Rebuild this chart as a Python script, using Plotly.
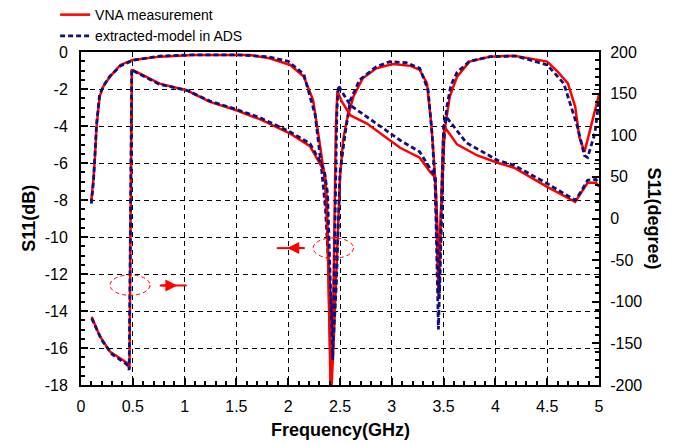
import plotly.graph_objects as go

# ---------------- data ----------------
# VNA measurement, magnitude S11 (dB)
meas_mag_f = [0.10, 0.12, 0.135, 0.15, 0.18, 0.215, 0.28, 0.38, 0.50, 0.76, 1.08, 1.5, 1.63, 1.82,
              2.02, 2.15, 2.24, 2.29, 2.32, 2.355, 2.38, 2.40, 2.415, 2.44, 2.47, 2.50, 2.53, 2.565,
              2.63, 2.72, 2.85, 3.01, 3.18, 3.27, 3.34, 3.38, 3.40, 3.417, 3.435, 3.45, 3.465, 3.49,
              3.51, 3.56, 3.63, 3.75, 3.95, 4.18, 4.5, 4.6, 4.7, 4.77, 4.81, 4.86, 4.89, 4.96, 5.0]
meas_mag_db = [-8.0, -6.9, -5.66, -4.04, -2.4, -1.87, -1.33, -0.7, -0.43, -0.25, -0.16, -0.15, -0.16, -0.34,
               -0.7, -1.33, -2.6, -4.4, -5.66, -6.9, -10.0, -14.5, -18.5, -15.5, -11.5, -6.8, -4.76, -3.7,
               -2.4, -1.42, -0.88, -0.65, -0.75, -0.97, -1.7, -3.84, -5.3, -6.7, -10.0, -13.2, -10.0, -6.5,
               -4.2, -2.4, -1.33, -0.52, -0.25, -0.2, -0.52, -1.06, -1.7, -2.95, -4.6, -5.4, -4.75, -3.1, -2.3]

# VNA measurement, phase S11 (degree)
meas_ph_f = [0.103, 0.18, 0.28, 0.44, 0.468, 0.49, 0.505, 0.76, 1.02, 1.245, 1.50, 1.73, 2.02, 2.21, 2.32,
             2.355, 2.375, 2.395, 2.41, 2.43, 2.445, 2.46, 2.475, 2.52, 2.6, 2.76, 3.08, 3.27, 3.37, 3.42,
             3.44, 3.455, 3.475, 3.495, 3.51, 3.63, 3.82, 4.02, 4.18, 4.5, 4.77, 4.83, 4.89, 4.97, 5.0]
meas_ph_deg = [-118, -141, -160, -173, -180, 178, 178, 162, 154, 140, 130, 119, 102, 87, 63,
               53, 20, -90, -210, -150, -30, 110, 153, 140, 124, 114, 85, 73, 56, 49,
               -10, -75, 10, 95, 110, 89, 76, 67, 61, 38, 20, 31, 43, 43, 38]

# extracted model in ADS, magnitude S11 (dB)
mod_mag_f = [0.10, 0.12, 0.135, 0.15, 0.18, 0.22, 0.28, 0.38, 0.5, 0.76, 1.08, 1.5, 1.8, 2.0, 2.15, 2.26,
             2.32, 2.36, 2.40, 2.435, 2.465, 2.49, 2.5, 2.55, 2.6, 2.69, 2.85, 2.98, 3.14, 3.27, 3.35,
             3.39, 3.42, 3.45, 3.48, 3.5, 3.53, 3.57, 3.63, 3.75, 3.95, 4.2, 4.5, 4.66, 4.79, 4.86,
             4.89, 4.96, 5.0]
mod_mag_db = [-8.2, -7.0, -5.5, -3.9, -2.3, -1.8, -1.3, -0.75, -0.45, -0.22, -0.15, -0.15, -0.25, -0.5, -1.2, -3.4,
              -6.2, -8.5, -12.5, -15.7, -12.5, -8.5, -6.5, -4.4, -2.6, -1.5, -0.8, -0.52, -0.58, -0.88, -2.05,
              -4.5, -7.5, -15.0, -8.5, -5.0, -3.0, -1.8, -1.1, -0.5, -0.25, -0.22, -0.7, -1.7, -4.0, -5.6,
              -5.7, -4.4, -2.6]

# extracted model in ADS, phase S11 (degree)
mod_ph_f = [0.103, 0.2, 0.3, 0.44, 0.465, 0.49, 0.51, 0.76, 1.02, 1.245, 1.5, 1.73, 2.02, 2.21, 2.32, 2.35,
            2.38, 2.41, 2.43, 2.45, 2.47, 2.485, 2.52, 2.6, 2.76, 3.08, 3.27, 3.37, 3.42, 3.44, 3.46,
            3.48, 3.5, 3.52, 3.72, 4.02, 4.18, 4.5, 4.77, 4.83, 4.89, 4.97, 5.0]
mod_ph_deg = [-120, -146, -163, -175, -182, 179, 177, 161, 154, 141, 131, 121, 104, 90, 66, 56,
              30, -80, -170, -20, 130, 160, 152, 136, 122, 94, 80, 60, 50, -30, -90,
              20, 110, 123, 91, 70, 64, 42, 22, 33, 46, 47, 42]

# tick labels
x_ticks = [0, 0.5, 1, 1.5, 2, 2.5, 3, 3.5, 4, 4.5, 5]
x_tick_text = ["0", "0.5", "1", "1.5", "2", "2.5", "3", "3.5", "4", "4.5", "5"]
y_ticks = [0, -2, -4, -6, -8, -10, -12, -14, -16, -18]
y_tick_text = ["0", "-2", "-4", "-6", "-8", "-10", "-12", "-14", "-16", "-18"]
y2_ticks = [200, 150, 100, 50, 0, -50, -100, -150, -200]
y2_tick_text = ["200", "150", "100", "50", "0", "-50", "-100", "-150", "-200"]

# ---------------- figure ----------------
FONT = "Liberation Sans, Arial, sans-serif"
RED = "#ff0000"
BLUE = "#10107a"

fig = go.Figure()
fig.add_trace(go.Scatter(x=meas_mag_f, y=meas_mag_db, mode="lines", name="VNA measurement",
                         legendgroup="vna", line=dict(color=RED, width=2.5)))
fig.add_trace(go.Scatter(x=meas_ph_f, y=meas_ph_deg, mode="lines", yaxis="y2", showlegend=False,
                         legendgroup="vna", line=dict(color=RED, width=2.5)))
fig.add_trace(go.Scatter(x=mod_mag_f, y=mod_mag_db, mode="lines", name="extracted-model in ADS",
                         legendgroup="ads", line=dict(color=BLUE, width=2.8, dash="5px,3px")))
fig.add_trace(go.Scatter(x=mod_ph_f, y=mod_ph_deg, mode="lines", yaxis="y2", showlegend=False,
                         legendgroup="ads", line=dict(color=BLUE, width=2.8, dash="5px,3px")))

tickfont = dict(family=FONT, size=16, color="black")
common = dict(showline=True, linecolor="black", linewidth=2, ticks="inside", tickcolor="black",
              tickwidth=1.5, zeroline=False, tickfont=tickfont, automargin=False)

fig.update_layout(
    width=683, height=444,
    margin=dict(l=81, r=84, t=52, b=59, autoexpand=False),
    paper_bgcolor="white", plot_bgcolor="white",
    font=dict(family=FONT, color="black"),
    xaxis=dict(range=[0, 5], tickmode="array", tickvals=x_ticks, ticktext=x_tick_text,
               showgrid=True, gridcolor="black", gridwidth=1.3, griddash="5px,4px", mirror=True,
               ticklen=7, minor=dict(dtick=0.1, tick0=0, ticks="inside", ticklen=4, tickcolor="black",
                                     showgrid=False),
               ticklabelstandoff=6, **common),
    yaxis=dict(range=[-18, 0], tickmode="array", tickvals=y_ticks, ticktext=y_tick_text,
               showgrid=True, gridcolor="black", gridwidth=1.3, griddash="5px,4px", mirror=True,
               ticklen=7, minor=dict(dtick=0.5, tick0=0, ticks="inside", ticklen=4, tickcolor="black",
                                     showgrid=False),
               ticklabelstandoff=8, **common),
    yaxis2=dict(range=[-200, 200], overlaying="y", side="right", tickmode="array", tickvals=y2_ticks,
                ticktext=y2_tick_text, showgrid=False, ticklen=7,
                minor=dict(dtick=10, tick0=0, ticks="inside", ticklen=4, tickcolor="black",
                           showgrid=False),
                ticklabelstandoff=6, **common),
    legend=dict(x=-0.05, y=1.159, xanchor="left", yanchor="top", bgcolor="rgba(0,0,0,0)",
                font=dict(family=FONT, size=14, color="black"), traceorder="grouped",
                tracegroupgap=0),
    showlegend=True,
)

fig.add_annotation(text="<b>S11(dB)</b>", xref="paper", yref="paper", x=-0.102, y=0.5,
                   xanchor="center", yanchor="middle",
                   textangle=-90, showarrow=False, font=dict(family=FONT, size=18, color="black"))
fig.add_annotation(text="<b>S11(degree)</b>", xref="paper", yref="paper", x=1.108, y=0.5,
                   xanchor="center", yanchor="middle",
                   textangle=90, showarrow=False, font=dict(family=FONT, size=18, color="black"))
fig.add_annotation(text="<b>Frequency(GHz)</b>", xref="paper", yref="paper", x=0.5, y=-0.135,
                   xanchor="center", yanchor="middle",
                   showarrow=False, font=dict(family=FONT, size=18, color="black"))

# dashed ellipses marking which axis each curve belongs to
fig.add_shape(type="circle", xref="x", yref="y", x0=0.28, x1=0.666, y0=-13.15, y1=-12.05,
              line=dict(color=RED, width=1, dash="4px,3px"))
fig.add_shape(type="circle", xref="x", yref="y", x0=2.24, x1=2.63, y0=-11.15, y1=-10.05,
              line=dict(color=RED, width=1, dash="4px,3px"))
# arrows
fig.add_shape(type="line", xref="x", yref="y", x0=0.76, x1=1.02, y0=-12.62, y1=-12.62,
              line=dict(color=RED, width=2))
fig.add_annotation(x=0.93, y=-12.62, ax=0.76, ay=-12.62, xref="x", yref="y", axref="x", ayref="y",
                   showarrow=True, arrowhead=2, arrowsize=1.2, arrowwidth=2, arrowcolor=RED, text="")
fig.add_shape(type="line", xref="x", yref="y", x0=1.89, x1=2.16, y0=-10.6, y1=-10.6,
              line=dict(color=RED, width=2))
fig.add_annotation(x=1.99, y=-10.6, ax=2.16, ay=-10.6, xref="x", yref="y", axref="x", ayref="y",
                   showarrow=True, arrowhead=2, arrowsize=1.2, arrowwidth=2, arrowcolor=RED, text="")

fig.write_html("out.html", config={"displayModeBar": False},
               post_script="document.body.style.margin='0';document.body.style.padding='0';")
